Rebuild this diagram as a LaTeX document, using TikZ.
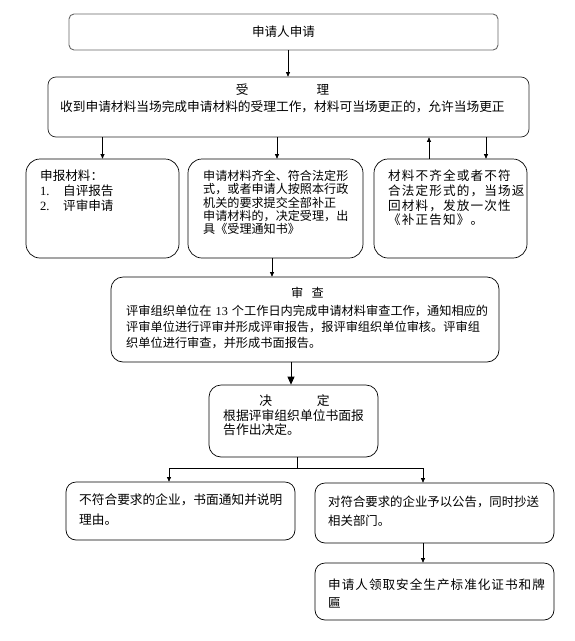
\documentclass[tikz,border=0pt]{standalone}
\usepackage{fontspec}
\setmainfont{Noto Sans CJK SC}
\newfontfamily\latin{Liberation Serif}
\usetikzlibrary{arrows.meta, positioning}

\begin{document}
\begin{tikzpicture}[x=1pt, y=-1pt,
    every node/.style={font=\fontsize{12.6}{15}\selectfont},
    box/.style={draw, line width=0.7pt, rounded corners=#1, inner sep=0pt},
    box/.default=10pt,
    txt/.style={anchor=base west, inner sep=0pt, align=left, text width=#1},
    ttl/.style={inner sep=0pt},
    arr/.style={-{Triangle[length=4.5pt, width=4pt]}, line width=0.7pt},
    arrb/.style={-{Triangle[length=8pt, width=7pt]}, line width=0.9pt}
]
\useasboundingbox (0,0) rectangle (575,641);

% boxes
\node[box=5pt, draw=black!60, line width=0.9pt, minimum width=429pt, minimum height=36pt] (apply) at (283.5,32) {申请人申请};
\node[box=8pt, draw=black!85, minimum width=481pt, minimum height=60pt] (accept) at (288.5,107) {};
\node[box=14pt, minimum width=153pt, minimum height=99pt] (materials) at (102.5,208.5) {};
\node[box=14pt, minimum width=175pt, minimum height=99pt] (complete) at (275.5,208.5) {};
\node[box=14pt, minimum width=153pt, minimum height=99pt] (incomplete) at (450.5,208.5) {};
\node[box=12pt, minimum width=388pt, minimum height=85pt] (review) at (305,319.5) {};
\node[box=12pt, minimum width=169pt, minimum height=72pt] (decide) at (293.5,421) {};
\node[box, minimum width=229pt, minimum height=58pt] (reject) at (180.5,511) {};
\node[box, minimum width=239pt, minimum height=60pt] (publish) at (434.5,513) {};
\node[box, minimum width=239pt, minimum height=57pt] (certify) at (434.5,591.5) {};

% texts
\node[ttl] (acceptT) at (282.5,90) {受\hspace{68pt}理};
\node[txt=460pt, font=\fontsize{12.7}{15}\selectfont] (acceptB) at (60,111.8)
  {收到申请材料当场完成申请材料的受理工作，材料可当场更正的，允许当场更正};
\node[txt=130pt] (materialsT) at (40,180.8)
  {申报材料：\\
   \makebox[23pt][l]{\latin 1.}自评报告\\
   \makebox[23pt][l]{\latin 2.}评审申请};
\node[txt=160pt, font=\fontsize{12.1}{13.3}\selectfont] (completeT) at (203,180.6)
  {申请材料齐全、符合法定形\\式，或者申请人按照本行政\\机关的要求提交全部补正\\申请材料的，决定受理，出\\具《受理通知书》};
\node[txt=140pt, font=\fontsize{12.6}{14.6}\selectfont\addfontfeature{LetterSpace=9}] (incompleteT) at (388,180.8)
  {材料不齐全或者不符\\合法定形式的，当场返\\回材料，发放一次性\\《补正告知》。};
\node[ttl, font=\fontsize{12.2}{16}\selectfont] (reviewT) at (307.5,293) {审\hspace{8.5pt}查};
\node[txt=380pt, font=\fontsize{12.2}{16}\selectfont] (reviewB) at (126,315.6)
  {评审组织单位在 {\latin 13} 个工作日内完成申请材料审查工作，通知相应的\\
   评审单位进行评审并形成评审报告，报评审组织单位审核。评审组\\
   织单位进行审查，并形成书面报告。};
\node[ttl, font=\fontsize{12.8}{14}\selectfont] (decideT) at (294.5,401) {决\hspace{44.5pt}定};
\node[txt=150pt, font=\fontsize{12.8}{14}\selectfont] (decideB) at (223,420.9)
  {根据评审组织单位书面报\\告作出决定。};
\node[txt=215pt, font=\fontsize{12.7}{20}\selectfont] (rejectT) at (79,504.8)
  {不符合要求的企业，书面通知并说明\\理由。};
\node[txt=220pt, font=\fontsize{12.4}{19}\selectfont] (publishT) at (328,506.7)
  {对符合要求的企业予以公告，同时抄送\\相关部门。};
\node[txt=225pt, font=\fontsize{12.6}{18}\selectfont\addfontfeature{LetterSpace=8}] (certifyT) at (328,589.8)
  {申请人领取安全生产标准化证书和牌\\匾};

% connectors
\draw[arr] ([xshift=4.5pt]apply.south) -- ([xshift=4.5pt]apply.south |- accept.north);
\draw[arr] (materials.north |- accept.south) -- (materials.north);
\draw[arr] ([xshift=1.5pt]complete.north |- accept.south) -- ([xshift=1.5pt]complete.north);
\draw[arr] ([xshift=-21.5pt]incomplete.north) -- ([xshift=-21.5pt]incomplete.north |- accept.south);
\draw[arr] ([xshift=35.5pt]incomplete.north |- accept.south) -- ([xshift=35.5pt]incomplete.north);
\draw[arr] ([xshift=-3.5pt]complete.south) -- ([xshift=-3.5pt]complete.south |- review.north);
\draw[arrb] ([xshift=-2.5pt]decide.north |- review.south) -- ([xshift=-2.5pt]decide.north);
\coordinate (fork) at ([xshift=3.5pt, yshift=-11pt]decide.south);
\draw[line width=0.7pt] ([xshift=3.5pt]decide.south) -- (fork);
\draw[arr] (fork) -| ([xshift=-11.5pt]reject.north);
\draw[arr] (fork) -| ([xshift=-11.5pt]publish.north);
\draw[arr] ([xshift=-11.5pt]publish.south) -- ([xshift=-11.5pt]certify.north);
\end{tikzpicture}
\end{document}
